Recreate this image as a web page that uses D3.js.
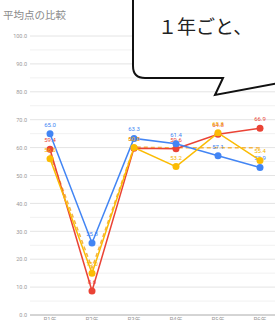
<!DOCTYPE html>
<html><head><meta charset="utf-8">
<script src="https://cdn.jsdelivr.net/npm/d3@7"></script>
<style>body{margin:0;background:#fff;overflow:hidden}svg{display:block}</style>
</head><body>
<svg id="c" width="275" height="320"></svg>
<script>
const categories = ["R1年","R2年","R3年","R4年","R5年","R6年"];
const blueVals   = [65.0, 25.8, 63.3, 61.4, 57.1, 52.9];
const redVals    = [59.4, 8.6, 59.8, 59.6, 64.8, 66.9];
const yellowVals = [56.0, 15.0, 60.0, 53.2, 65.3, 55.4];
const dashedVals = [57.5, 16.8, 60.2, 59.9, 60.0, 59.9];
const yTicks = [0,10,20,30,40,50,60,70,80,90,100];
const titleText = "平均点の比較";
const bubbleText = "１年ごと、";

const svg = d3.select("#c");
const x = d3.scaleBand().domain(categories).range([29, 281]);
const y = d3.scaleLinear().domain([0, 100]).range([315, 36]);
const cx = d => x(d) + x.bandwidth()/2;

svg.append("text").attr("x",3).attr("y",19).attr("font-family","Noto Sans CJK JP")
  .attr("font-size",10.5).attr("fill","#8a8a8a").text(titleText);

// gridlines every 5
const grid = d3.range(5, 101, 5);
svg.append("g").selectAll("line").data(grid).join("line")
  .attr("x1",30).attr("x2",275).attr("y1",d=>y(d)).attr("y2",d=>y(d))
  .attr("stroke", d => d%10===0 ? "#e4e4e4" : "#f1f1f1").attr("stroke-width",1);

const yAxis = d3.axisLeft(y).tickValues(yTicks).tickFormat(d3.format(".1f")).tickSize(0).tickPadding(3);
const ga = svg.append("g").attr("transform","translate(30,0)").call(yAxis);
ga.select(".domain").remove();
ga.selectAll("text").attr("font-family","Roboto").attr("font-size",5.5).attr("fill","#999");

svg.append("line").attr("x1",30).attr("x2",275).attr("y1",315).attr("y2",315).attr("stroke","#aaa").attr("stroke-width",1);

const xAxis = d3.axisBottom(x).tickSize(0).tickPadding(3);
const gx = svg.append("g").attr("transform","translate(0,315)").call(xAxis);
gx.select(".domain").remove();
gx.selectAll("text").attr("font-family","Noto Sans CJK JP").attr("font-size",6).attr("fill","#999");

const line = d3.line().x((d,i)=>cx(categories[i])).y(d=>y(d));

function series(vals, color, dashed, showPts, labelCol){
  svg.append("path").datum(vals).attr("d",line).attr("fill","none")
    .attr("stroke",color).attr("stroke-width",1.5)
    .attr("stroke-dasharray", dashed ? "4,3" : null);
  if(showPts){
    svg.append("g").selectAll("circle").data(vals).join("circle")
      .attr("cx",(d,i)=>cx(categories[i])).attr("cy",d=>y(d)).attr("r",3.5).attr("fill",color);
    svg.append("g").selectAll("text").data(vals).join("text")
      .attr("x",(d,i)=>cx(categories[i])).attr("y",d=>y(d)-7).attr("text-anchor","middle")
      .attr("font-family","Roboto").attr("font-size",6).attr("fill",labelCol)
      .text(d=>d3.format(".1f")(d));
  }
}
series(dashedVals, "#f5b342", true, false);
series(redVals, "#ea4335", false, true, "#ea4335");
series(blueVals, "#4285f4", false, true, "#4285f4");
series(yellowVals, "#fbbc04", false, true, "#f4b400");

// speech bubble callout
const b = d3.path();
b.moveTo(133, -10);
b.lineTo(133, 66);
b.quadraticCurveTo(133, 78, 145, 78);
b.lineTo(223, 78);
b.lineTo(215, 95);
b.lineTo(285, 82);
b.lineTo(285, -10);
b.closePath();
svg.append("path").attr("d", b.toString()).attr("fill","#fff").attr("stroke","#111").attr("stroke-width",2);
svg.append("text").attr("x",158).attr("y",34).attr("font-family","Noto Sans CJK JP")
  .attr("font-size",19).attr("fill","#222").text(bubbleText);
</script>
</body></html>
